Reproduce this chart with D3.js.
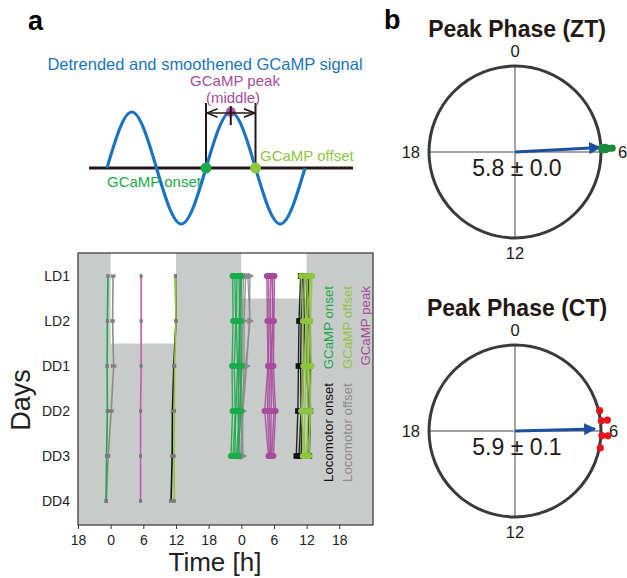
<!DOCTYPE html>
<html><head><meta charset="utf-8">
<script src="https://cdn.jsdelivr.net/npm/d3@7"></script>
<style>body{margin:0;background:#fff} svg{font-family:"Liberation Sans",Arial,Helvetica,sans-serif}</style>
</head><body><svg id="c" width="627" height="578"></svg>
<script>
// ---------------- DATA ----------------
// schematic signal key points (phase in cycles, normalised value)
const signalPhase = [0, 0.25, 0.5, 0.75, 1, 1.25, 1.5, 1.75, 2];
const signalValue = [0, 1, 0, -1, 0, 1, 0, -1, 0];
const onsetPhase = 1, peakPhase = 1.25, offsetPhase = 1.5;

// actogram
const days = ["LD1", "LD2", "DD1", "DD2", "DD3", "DD4"];
const timeTicks = [-6, 0, 6, 12, 18, 24, 30, 36, 42];
const lightStart = [0, 24];
const lightEnd = [12, 36];
const lightLastDay = ["LD2", "LD1"];

// mean phases (h) per day, left half
const meanGCaMPOnset  = [-0.5, -0.6, -0.65, -0.6, -0.75, -0.85];
const meanLocoOffset  = [0.45, 0.35, 0.55, 0.1, -0.45, -0.8];
const meanGCaMPPeak   = [5.6, 5.6, 5.6, 5.5, 5.5, 5.5];
const meanLocoOnset   = [11.9, 12.0, 11.6, 11.35, 11.3, 11.1];
const meanGCaMPOffset = [11.9, 12.0, 11.75, 11.7, 11.65, 11.7];
const semGCaMPOnset  = [0.15, 0.15, 0.2, 0.2, 0.2, 0.15];
const semLocoOffset  = [0.35, 0.3, 0.4, 0.35, 0.3, 0.2];
const semGCaMPPeak   = [0.1, 0.15, 0.1, 0.1, 0.1, 0.1];
const semLocoOnset   = [0.15, 0.15, 0.2, 0.2, 0.25, 0.3];
const semGCaMPOffset = [0.15, 0.15, 0.2, 0.2, 0.15, 0.15];

// individual animals, right half (next day, plotted +24 h), rows LD1..DD3
const rightRows = ["LD1", "LD2", "DD1", "DD2", "DD3"];
const indGCaMPOnset = [
  [-1.6, -1.5, -1.7, -1.6, -1.9],
  [-1.2, -1.0, -1.3, -1.1, -1.5],
  [-0.8, -0.9, -0.7, -1.0, -1.2],
  [-0.4, -0.3, -0.5, -0.6, -0.4],
  [-0.1, -0.4, -0.2, 0.0, -0.7],
  [0.0, -0.1, 0.1, -0.3, -0.9]
];
const indLocoOffset = [
  [1.6, 1.5, 1.0, 0.3, 0.2],
  [1.2, 1.6, 0.8, 0.1, 0.3],
  [0.8, 0.5, 0.5, 0.2, 0.0],
  [0.4, 0.2, 0.1, -0.2, 0.3],
  [0.1, -0.2, -0.3, -0.5, -0.2]
];
const indGCaMPPeak = [
  [4.7, 4.8, 4.9, 4.3, 5.0],
  [5.0, 5.1, 5.0, 4.8, 5.2],
  [5.4, 5.3, 5.5, 5.5, 5.4],
  [5.8, 5.7, 5.6, 6.0, 5.6],
  [6.1, 6.0, 5.9, 6.3, 5.9],
  [5.6, 5.9, 5.3, 5.1, 5.5]
];
const indLocoOnset = [
  [10.9, 10.6, 10.5, 10.4, 10.1],
  [11.2, 11.0, 10.9, 11.0, 10.6],
  [11.5, 11.6, 11.4, 11.2, 11.0],
  [11.9, 12.2, 12.0, 12.4, 12.3],
  [12.3, 12.5, 12.6, 12.7, 12.5]
];
const indGCaMPOffset = [
  [11.0, 11.3, 11.4, 11.2, 11.3],
  [11.6, 11.8, 11.9, 11.7, 11.5],
  [12.0, 12.2, 12.1, 12.3, 12.0],
  [12.5, 12.6, 12.4, 12.8, 12.2],
  [13.0, 12.7, 12.9, 12.6, 12.5],
  [12.8, 12.0, 11.6, 11.0, 11.8]
];

// circular plots
const ztPeaks = [5.8, 5.8, 5.85, 5.85, 5.9, 5.9];
const ctPeaks = [5.1, 5.55, 5.55, 6.2, 6.2, 6.75];
const circTitles = ["Peak Phase (ZT)", "Peak Phase (CT)"];
const circMean = [5.8, 5.9];
const circSem = [0.0, 0.1];
const circResultant = [0.99, 0.93];
const circTickLabels = [0, 6, 12, 18];

// ---------------- DRAW ----------------
const svg = d3.select("#c");
const BLUE = "#1a74c2", GREEN = "#1aab4b", LGREEN = "#8dc63f", MAG = "#a84b9e", GRAY = "#8c8c8c";

// panel letters
svg.append("text").attr("x", 28).attr("y", 30).attr("font-size", 27).attr("font-weight", "bold").text("a");
svg.append("text").attr("x", 384).attr("y", 29).attr("font-size", 27).attr("font-weight", "bold").text("b");

// ---- schematic ----
const sx = d3.scaleLinear().domain([0, 1]).range([107, 206]);
const sy = d3.scaleLinear().domain([-1, 1]).range([224, 112]);
const sch = svg.append("g");
sch.append("line").attr("x1", 89).attr("x2", 353).attr("y1", sy(0)).attr("y2", sy(0))
  .attr("stroke", "#231815").attr("stroke-width", 3);
[onsetPhase, offsetPhase].forEach(p => {
  sch.append("line").attr("x1", sx(p)).attr("x2", sx(p)).attr("y1", 103).attr("y2", sy(0))
    .attr("stroke", "#231815").attr("stroke-width", 2);
});
const sig = d3.range(signalPhase.length).map(i => [signalPhase[i], signalValue[i]]);
sch.append("path").datum(sig)
  .attr("d", d3.line().x(d => sx(d[0])).y(d => sy(d[1])).curve(d3.curveNatural))
  .attr("fill", "none").attr("stroke", BLUE).attr("stroke-width", 3.2);
const defs = svg.append("defs");
defs.append("marker").attr("id", "ah").attr("viewBox", "0 0 10 10").attr("refX", 10).attr("refY", 5)
  .attr("markerWidth", 7).attr("markerHeight", 7).attr("orient", "auto-start-reverse")
  .append("path").attr("d", "M0,1L10,5L0,9").attr("fill", "none").attr("stroke", "#231815").attr("stroke-width", 1.5);
sch.append("circle").attr("cx", sx(peakPhase)).attr("cy", sy(1)).attr("r", 5).attr("fill", "#9c3f96").attr("opacity", 0.85);
sch.append("line").attr("x1", sx(onsetPhase) + 1).attr("x2", sx(offsetPhase) - 1).attr("y1", 113).attr("y2", 113)
  .attr("stroke", "#231815").attr("stroke-width", 1.5)
  .attr("marker-start", "url(#ah)").attr("marker-end", "url(#ah)");
sch.append("line").attr("x1", sx(peakPhase)).attr("x2", sx(peakPhase)).attr("y1", 106).attr("y2", 125)
  .attr("stroke", "#231815").attr("stroke-width", 2);
sch.append("circle").attr("cx", sx(onsetPhase)).attr("cy", sy(0)).attr("r", 5.5).attr("fill", GREEN);
sch.append("circle").attr("cx", sx(offsetPhase)).attr("cy", sy(0)).attr("r", 5.5).attr("fill", LGREEN);
sch.append("text").attr("x", 205).attr("y", 70).attr("text-anchor", "middle").attr("font-size", 16.5)
  .attr("fill", BLUE).text("Detrended and smoothened GCaMP signal");
sch.append("text").attr("x", 235).attr("y", 86).attr("text-anchor", "middle").attr("font-size", 15)
  .attr("fill", MAG).text("GCaMP peak");
sch.append("text").attr("x", 233).attr("y", 102.5).attr("text-anchor", "middle").attr("font-size", 15)
  .attr("fill", MAG).text("(middle)");
sch.append("text").attr("x", 260).attr("y", 161).attr("font-size", 15).attr("fill", LGREEN).text("GCaMP offset");
sch.append("text").attr("x", 107).attr("y", 187).attr("font-size", 15).attr("fill", GREEN).text("GCaMP onset");

// ---- actogram ----
const L = 78, R = 373, T = 253, B = 525;
const x = d3.scaleLinear().domain([-6, 48.2]).range([L, R]);
const y = d3.scalePoint().domain(days).range([276, 501]);
const step = y.step();
const act = svg.append("g");
act.append("rect").attr("x", L).attr("y", T).attr("width", R - L).attr("height", B - T).attr("fill", "#c9caca");
lightStart.forEach((s, i) => {
  act.append("rect").attr("x", x(s)).attr("y", T).attr("width", x(lightEnd[i]) - x(s))
    .attr("height", y(lightLastDay[i]) + step / 2 - T).attr("fill", "#fff");
});
act.append("rect").attr("x", L).attr("y", T).attr("width", R - L).attr("height", B - T)
  .attr("fill", "none").attr("stroke", "#333").attr("stroke-width", 1.2);

const xAxis = act.append("g").attr("transform", `translate(0,${B})`)
  .call(d3.axisBottom(x).tickValues(timeTicks).tickSize(4).tickFormat(d => ((d % 24) + 24) % 24));
xAxis.select(".domain").remove();
xAxis.selectAll("line").attr("stroke", "#333");
xAxis.selectAll("text").attr("font-size", 14).attr("fill", "#222").attr("dy", "0.95em").attr("font-family", "Liberation Sans, Arial, sans-serif");
const yAxis = act.append("g").attr("transform", `translate(${L},0)`)
  .call(d3.axisLeft(y).tickSize(0).tickPadding(8));
yAxis.select(".domain").remove();
yAxis.selectAll("text").attr("font-size", 14).attr("fill", "#222").attr("font-family", "Liberation Sans, Arial, sans-serif");

act.append("text").attr("transform", "translate(30,400) rotate(-90)").attr("text-anchor", "middle")
  .attr("font-size", 27).attr("fill", "#222").text("Days");
act.append("text").attr("x", 215).attr("y", 571).attr("text-anchor", "middle")
  .attr("font-size", 26).attr("fill", "#222").text("Time [h]");

// mean series (left half)
const meanSeries = [
  {v: meanLocoOffset, e: semLocoOffset, c: GRAY},
  {v: meanGCaMPOnset, e: semGCaMPOnset, c: GREEN},
  {v: meanGCaMPPeak, e: semGCaMPPeak, c: "#c35bb9"},
  {v: meanLocoOnset, e: semLocoOnset, c: "#111"},
  {v: meanGCaMPOffset, e: semGCaMPOffset, c: LGREEN}
];
const lineMean = d3.line().x(d => x(d[0])).y(d => y(d[1]));
meanSeries.forEach(s => {
  const pts = s.v.map((v, i) => [v, days[i]]);
  act.append("path").datum(pts).attr("d", lineMean).attr("fill", "none").attr("stroke", s.c).attr("stroke-width", 1.6);
});
meanSeries.forEach(s => {
  s.v.forEach((v, i) => {
    const yy = y(days[i]);
    const g = act.append("g").attr("stroke", "#777").attr("stroke-width", 0.9);
    g.append("line").attr("x1", x(v - s.e[i])).attr("x2", x(v + s.e[i])).attr("y1", yy).attr("y2", yy);
    g.append("line").attr("x1", x(v - s.e[i])).attr("x2", x(v - s.e[i])).attr("y1", yy - 2).attr("y2", yy + 2);
    g.append("line").attr("x1", x(v + s.e[i])).attr("x2", x(v + s.e[i])).attr("y1", yy - 2).attr("y2", yy + 2);
    act.append("rect").attr("x", x(v) - 1.5).attr("y", yy - 1.5).attr("width", 3).attr("height", 3).attr("fill", "#7a7a7a");
  });
});

// individual series (right half, +24 h)
const indSeries = [
  {d: indLocoOffset, c: GRAY, m: "tri"},
  {d: indGCaMPOnset, c: GREEN, m: "circle"},
  {d: indGCaMPPeak, c: MAG, m: "circle"},
  {d: indLocoOnset, c: "#111", m: "square"},
  {d: indGCaMPOffset, c: LGREEN, m: "circle"}
];
const lineInd = d3.line().x(d => x(d[0] + 24)).y(d => y(d[1]));
indSeries.forEach(s => {
  s.d.forEach(animal => {
    const pts = animal.map((v, i) => [v, rightRows[i]]);
    act.append("path").datum(pts).attr("d", lineInd).attr("fill", "none")
      .attr("stroke", s.c).attr("stroke-width", 1.4).attr("opacity", 0.9);
    pts.forEach(p => {
      const cx = x(p[0] + 24), cy = y(p[1]);
      if (s.m === "circle") {
        act.append("circle").attr("cx", cx).attr("cy", cy).attr("r", 3).attr("fill", s.c);
      } else if (s.m === "square") {
        act.append("rect").attr("x", cx - 2.8).attr("y", cy - 2.8).attr("width", 5.6).attr("height", 5.6).attr("fill", s.c);
      } else {
        act.append("path").attr("d", d3.symbol(d3.symbolTriangle, 22)())
          .attr("transform", `translate(${cx},${cy}) rotate(90)`).attr("fill", s.c);
      }
    });
  });
});

// rotated legend
const legG = [
  {t: "GCaMP onset", c: GREEN, x: 333},
  {t: "GCaMP offset", c: LGREEN, x: 352},
  {t: "GCaMP peak", c: MAG, x: 370}
];
legG.forEach(l => {
  act.append("text").attr("transform", `translate(${l.x},286) rotate(-90)`).attr("text-anchor", "end")
    .attr("font-size", 13.3).attr("fill", l.c).text(l.t);
});
const legL = [
  {t: "Locomotor onset", c: "#111", x: 333},
  {t: "Locomotor offset", c: GRAY, x: 352}
];
legL.forEach(l => {
  act.append("text").attr("transform", `translate(${l.x},482) rotate(-90)`).attr("text-anchor", "start")
    .attr("font-size", 13.3).attr("fill", l.c).text(l.t);
});

// ---- circular plots ----
const circ = [
  {cx: 515, cy: 152, peaks: ztPeaks, dot: "#1a8a3c", stack: 3.4, sixOff: 103},
  {cx: 515, cy: 431, peaks: ctPeaks, dot: "#e8141b", stack: 6, sixOff: 94}
];
const Rc = 86;
const ang = d3.scaleLinear().domain([0, 24]).range([0, 2 * Math.PI]);
defs.append("marker").attr("id", "bh").attr("viewBox", "0 0 10 10").attr("refX", 9).attr("refY", 5)
  .attr("markerWidth", 5).attr("markerHeight", 4).attr("orient", "auto").attr("markerUnits", "strokeWidth")
  .append("path").attr("d", "M0,0L10,5L0,10z").attr("fill", "#1d4fa0");
circ.forEach((c, k) => {
  const g = svg.append("g");
  const pt = (h, r) => [c.cx + r * Math.sin(ang(h)), c.cy - r * Math.cos(ang(h))];
  g.append("text").attr("x", 517).attr("y", c.cy - 115).attr("text-anchor", "middle")
    .attr("font-size", 23).attr("font-weight", "bold").attr("fill", "#231815").text(circTitles[k]);
  circTickLabels.slice(0, 2).forEach(h => {
    const a = pt(h, Rc), b = pt(h + 12, Rc);
    g.append("line").attr("x1", a[0]).attr("y1", a[1]).attr("x2", b[0]).attr("y2", b[1])
      .attr("stroke", "#a3a3a3").attr("stroke-width", 2);
  });
  g.append("circle").attr("cx", c.cx).attr("cy", c.cy).attr("r", Rc).attr("fill", "none")
    .attr("stroke", "#3a3a3a").attr("stroke-width", 3);
  circTickLabels.forEach(h => {
    let tx, ty, anchor = "middle";
    if (h === 0) { tx = c.cx; ty = c.cy - Rc - 9; }
    else if (h === 12) { tx = c.cx; ty = c.cy + Rc + 21; }
    else if (h === 18) { tx = c.cx - Rc - 9; ty = c.cy + 6; anchor = "end"; }
    else { tx = c.cx + c.sixOff; ty = c.cy + 6; anchor = "start"; }
    g.append("text").attr("x", tx).attr("y", ty).attr("text-anchor", anchor)
      .attr("font-size", 16.5).attr("fill", "#231815").text(h);
  });
  const tip = pt(circMean[k], Rc * circResultant[k]);
  g.append("line").attr("x1", c.cx).attr("y1", c.cy).attr("x2", tip[0]).attr("y2", tip[1])
    .attr("stroke", "#1d4fa0").attr("stroke-width", 3).attr("marker-end", "url(#bh)");
  const bins = d3.group(c.peaks, v => Math.round(v * 4) / 4);
  bins.forEach((vals, b) => {
    vals.forEach((v, j) => {
      const p = pt(v, Rc + 1 + j * c.stack);
      g.append("circle").attr("cx", p[0]).attr("cy", p[1]).attr("r", 3.6).attr("fill", c.dot);
    });
  });
  g.append("text").attr("x", 517).attr("y", c.cy + 24).attr("text-anchor", "middle")
    .attr("font-size", 23).attr("fill", "#231815").text(`${d3.format(".1f")(circMean[k])} ± ${d3.format(".1f")(circSem[k])}`);
});
</script></body></html>
